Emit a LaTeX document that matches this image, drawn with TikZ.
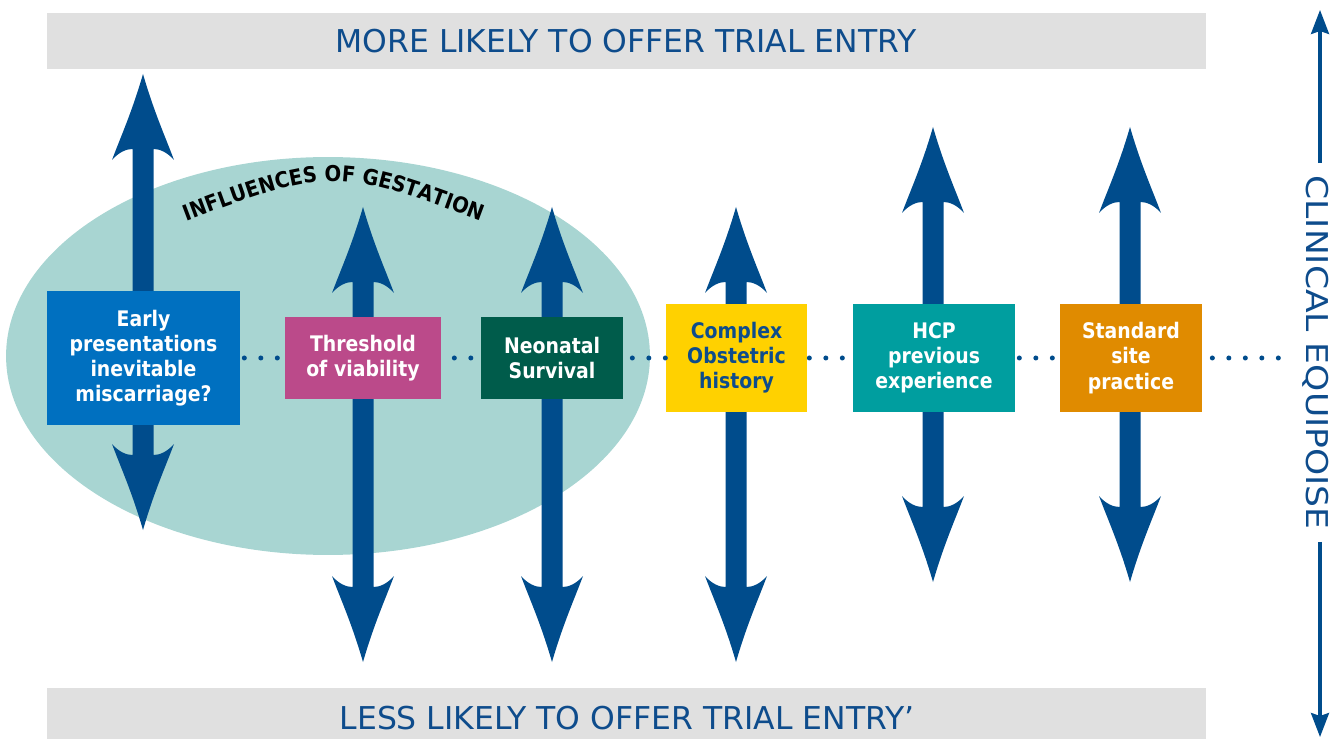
\documentclass[tikz,border=0pt]{standalone}
\usepackage{fontspec}
\setmainfont{DejaVu Sans}
\newfontfamily\axisfont{DejaVu Sans}[FakeStretch=1.15]
\newfontfamily\boxfont{DejaVu Sans}[FakeStretch=0.88]
\newfontfamily\arcfont{DejaVu Sans}[FakeStretch=0.9]
\usetikzlibrary{arrows.meta,decorations.text}

\definecolor{arrowblue}{RGB}{0,76,140}
\definecolor{textblue}{RGB}{14,76,140}
\definecolor{bargray}{RGB}{224,224,224}
\definecolor{gestation}{RGB}{168,213,210}
\definecolor{earlyblue}{RGB}{0,112,192}
\definecolor{viabpink}{RGB}{187,74,138}
\definecolor{neogreen}{RGB}{0,92,75}
\definecolor{obsyellow}{RGB}{255,209,0}
\definecolor{hcpteal}{RGB}{0,158,159}
\definecolor{siteorange}{RGB}{224,139,0}

% broad double-headed arrow: x, y of upper tip, y of lower tip
\newcommand{\DrawDoubleArrow}[3]{%
  \fill[arrowblue] (#1,#2)
    .. controls +(-11,38) and +(9,-24) .. (#1-31,#2+86)
    .. controls +(7,-8) and +(-6,0) .. (#1-10.5,#2+75)
    -- (#1-10.5,#3-75)
    .. controls +(-6,0) and +(7,8) .. (#1-31,#3-86)
    .. controls +(9,24) and +(-11,-38) .. (#1,#3)
    .. controls +(11,-38) and +(-9,24) .. (#1+31,#3-86)
    .. controls +(-7,8) and +(6,0) .. (#1+10.5,#3-75)
    -- (#1+10.5,#2+75)
    .. controls +(6,0) and +(-7,-8) .. (#1+31,#2+86)
    .. controls +(-9,-24) and +(11,38) .. (#1,#2)
    -- cycle;}

\tikzset{
  bar/.style={fill=bargray, draw=none},
  bartext/.style={text=textblue, font=\fontsize{17.9pt}{21pt}\selectfont, inner sep=0pt},
  box/.style={draw=none, inner sep=0pt, align=center, text=white,
    font=\boxfont\bfseries\fontsize{12.2pt}{14.3pt}\selectfont},
  dotline/.style={arrowblue, line width=0.1cm, line cap=round,
    dash pattern=on 0pt off 0.33cm},
  axisline/.style={arrowblue, line width=0.065cm,
    -{Stealth[length=0.48cm, width=0.36cm, inset=0.06cm]}},
  axistext/.style={text=textblue, font=\axisfont\fontsize{17.1pt}{20pt}\selectfont,
    inner ysep=0pt, inner xsep=0.24cm}
}

\begin{document}
\begin{tikzpicture}[x=0.02cm, y=-0.02cm]
\useasboundingbox (0,0) rectangle (1331,739);

% top and bottom bands
\fill[bar] (47,13) rectangle (1206,69);
\node[bartext] (more) at (626,41) {MORE LIKELY TO OFFER TRIAL ENTRY};
\fill[bar] (47,688) rectangle (1206,739);
\node[bartext] (less) at (627,718) {LESS LIKELY TO OFFER TRIAL ENTRY’};

% gestation region
\fill[gestation] (328,356) ellipse [x radius=6.44cm, y radius=3.98cm];
\path[decorate, decoration={text along path, text align=center,
  text={|\arcfont\bfseries\fontsize{12.4pt}{14pt}\selectfont|INFLUENCES OF GESTATION}}]
  (174,226) .. controls (333,166) .. (494,226);

% double arrows
\DrawDoubleArrow{143}{74}{530}
\DrawDoubleArrow{363}{207}{662}
\DrawDoubleArrow{552}{207}{662}
\DrawDoubleArrow{736}{207}{662}
\DrawDoubleArrow{933}{127}{582}
\DrawDoubleArrow{1130}{127}{582}

% factor boxes
\node[box, fill=earlyblue, minimum width=3.86cm, minimum height=2.68cm] (b1) at (143.5,358)
  {Early\\presentations\\inevitable\\miscarriage?};
\node[box, fill=viabpink, minimum width=3.12cm, minimum height=1.64cm] (b2) at (363,358)
  {Threshold\\of viability};
\node[box, fill=neogreen, minimum width=2.84cm, minimum height=1.64cm] (b3) at (552,358)
  {Neonatal\\Survival};
\node[box, fill=obsyellow, text=textblue, minimum width=2.82cm, minimum height=2.16cm] (b4) at (736.5,358)
  {Complex\\Obstetric\\history};
\node[box, fill=hcpteal, minimum width=3.24cm, minimum height=2.16cm] (b5) at (934,358)
  {HCP\\previous\\experience};
\node[box, fill=siteorange, minimum width=2.84cm, minimum height=2.16cm] (b6) at (1131,358)
  {Standard\\site\\practice};
\coordinate (dend) at (1283,358);

% dotted links
\draw[dotline, shorten <=0.08cm, shorten >=0.04cm] (b1.east) -- (b2.west);
\draw[dotline, shorten <=0.26cm, shorten >=0.10cm] (b2.east) -- (b3.west);
\draw[dotline, shorten <=0.18cm, shorten >=-0.08cm] (b3.east) -- (b4.west);
\draw[dotline, shorten <=0.04cm, shorten >=0.12cm] (b4.east) -- (b5.west);
\draw[dotline, shorten <=0.08cm, shorten >=0.06cm] (b5.east) -- (b6.west);
\draw[dotline, shorten <=0.20cm] (b6.east) -- (dend);

% equipoise axis
\node[axistext, rotate=-90, anchor=base] (eq) at (1306,352.5) {CLINICAL EQUIPOISE};
\coordinate (axtop) at (1320,10);
\coordinate (axbot) at (1320,737);
\draw[axisline] (eq.west -| axtop) -- (axtop);
\draw[axisline] (eq.east -| axbot) -- (axbot);
\end{tikzpicture}
\end{document}
